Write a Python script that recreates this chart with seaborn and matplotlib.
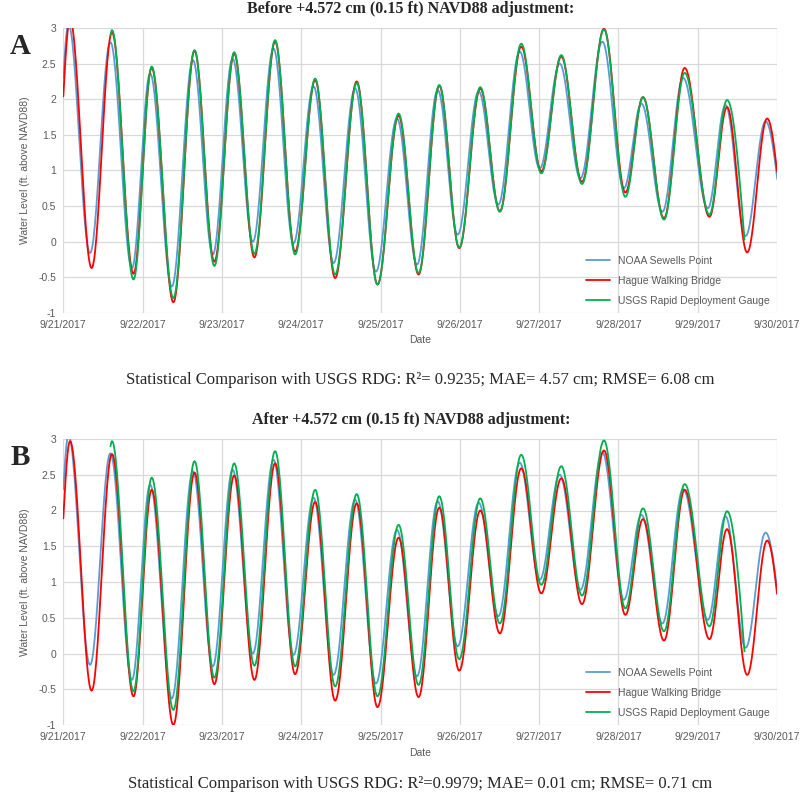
import numpy as np
import pandas as pd
import matplotlib
matplotlib.use('Agg')
import matplotlib.pyplot as plt
import matplotlib.dates as mdates
import seaborn as sns

START = pd.Timestamp('2017-09-21')
END = pd.Timestamp('2017-09-30')

# highs and lows, in days after 9/21/2017 00:00
tide_turns = [0.085, 0.357, 0.614, 0.885, 1.115, 1.388, 1.655, 1.905, 2.155, 2.41,
              2.671, 2.923, 3.176, 3.428, 3.70, 3.962, 4.228, 4.48, 4.741, 4.993,
              5.258, 5.505, 5.775, 6.028, 6.28, 6.541, 6.818, 7.088, 7.31, 7.575,
              7.836, 8.148, 8.37, 8.624, 8.876]
NOAA_LEAD = 0.02      # Sewells Point turns a little earlier than the other two
HAGUE_SHIFT = 0.15    # ft, Hague curve sits this much lower in panel B

hague_days = [0.0] + tide_turns + [9.015]
noaa_days = [0.0] + [t - NOAA_LEAD for t in tide_turns] + [9.015]
usgs_days = [0.595] + tide_turns[2:33] + [8.59]

# water levels (ft above NAVD88) at those times
hague_before = [2.04, 3.12, -0.37, 2.94, -0.45, 2.44, -0.85, 2.68, -0.28, 2.64, -0.22,
                2.81, -0.14, 2.27, -0.51, 2.25, -0.60, 1.77, -0.46, 2.19, -0.09, 2.15,
                0.43, 2.74, 0.99, 2.60, 0.84, 2.99, 0.69, 2.03, 0.33, 2.44, 0.35, 1.89,
                -0.15, 1.73, 0.84]
noaa = [2.30, 3.05, -0.16, 2.80, -0.37, 2.36, -0.63, 2.55, -0.18, 2.57, 0.00, 2.71,
        -0.02, 2.18, -0.30, 2.15, -0.42, 1.73, -0.32, 2.13, 0.10, 2.11, 0.52, 2.67,
        1.03, 2.50, 0.89, 2.81, 0.75, 1.94, 0.42, 2.30, 0.47, 1.92, 0.08, 1.69, 0.78]
usgs = [2.90, 2.97, -0.53, 2.46, -0.79, 2.69, -0.34, 2.66, -0.17, 2.83, -0.18, 2.29,
        -0.46, 2.23, -0.60, 1.80, -0.44, 2.20, -0.08, 2.17, 0.42, 2.78, 0.96, 2.62,
        0.81, 2.98, 0.63, 2.03, 0.31, 2.37, 0.38, 1.99, 0.03]
hague_after = [v - HAGUE_SHIFT for v in hague_before]

stations = ['NOAA Sewells Point', 'Hague Walking Bridge', 'USGS Rapid Deployment Gauge']
colors = ['#5B9BD5', '#FF0000', '#00B050']

titles = ['Before +4.572 cm (0.15 ft) NAVD88 adjustment:',
          'After +4.572 cm (0.15 ft) NAVD88 adjustment:']
stats = ['Statistical Comparison with USGS RDG: R\u00b2= 0.9235; MAE= 4.57 cm; RMSE= 6.08 cm',
         'Statistical Comparison with USGS RDG: R\u00b2=0.9979; MAE= 0.01 cm; RMSE= 0.71 cm']
letters = ['A', 'B']


def smooth(days, levels, n=30):
    # tide-shaped curve through the read highs/lows (cosine between turns)
    xs, ys = [], []
    last = len(days) - 2
    for i in range(len(days) - 1):
        s = np.linspace(0, 1, n, endpoint=(i == last))
        if i == 0:
            w = np.sin(s * np.pi / 2)
        elif i == last:
            w = 1 - np.cos(s * np.pi / 2)
        else:
            w = (1 - np.cos(s * np.pi)) / 2
        xs.append(days[i] + (days[i + 1] - days[i]) * s)
        ys.append(levels[i] + (levels[i + 1] - levels[i]) * w)
    return np.concatenate(xs), np.concatenate(ys)


def frame(days, levels, name):
    x, y = smooth(days, levels)
    return pd.DataFrame({'Date': START + pd.to_timedelta(x, unit='D'),
                         'level': y, 'station': name})


panels = [
    pd.concat([frame(noaa_days, noaa, stations[0]),
               frame(hague_days, hague_before, stations[1]),
               frame(usgs_days, usgs, stations[2])]),
    pd.concat([frame(noaa_days, noaa, stations[0]),
               frame(hague_days, hague_after, stations[1]),
               frame(usgs_days, usgs, stations[2])]),
]

sns.set_theme(style='white')
plt.rcParams['font.family'] = ['Liberation Sans', 'DejaVu Sans']
grey = '#595959'

fig = plt.figure(figsize=(8, 7.98), dpi=100)
W, H = 800, 798
boxes = [(63.3, 28, 777, 313), (63.3, 439, 777, 725)]
stat_y = [380, 784]

for k, (x0, y0, x1, y1) in enumerate(boxes):
    ax = fig.add_axes([x0 / W, 1 - y1 / H, (x1 - x0) / W, (y1 - y0) / H])
    sns.lineplot(data=panels[k], x='Date', y='level', hue='station',
                 hue_order=stations, palette=colors, sort=False,
                 estimator=None, linewidth=1.3, ax=ax)
    ax.set_xlim(START, END)
    ax.set_ylim(-1, 3)
    ax.set_yticks(np.arange(-1, 3.01, 0.5))
    ax.set_yticklabels(['-1', '-0.5', '0', '0.5', '1', '1.5', '2', '2.5', '3'])
    ax.xaxis.set_major_locator(mdates.DayLocator())
    ax.xaxis.set_major_formatter(mdates.DateFormatter('%-m/%-d/%Y'))
    ax.grid(True, color='#d9d9d9', linewidth=0.9)
    for sp in ax.spines.values():
        sp.set_visible(False)
    ax.tick_params(axis='both', length=0, labelsize=7.5, colors=grey, pad=5)
    ax.set_xlabel('Date', fontsize=7.5, color=grey, labelpad=4)
    ax.set_ylabel('Water Level (ft. above NAVD88)', fontsize=7.5, color=grey, labelpad=6)
    leg = ax.legend(loc='lower right', frameon=False, fontsize=7.5,
                    handlelength=2.3, labelspacing=0.95, borderaxespad=0.3)
    for t in leg.get_texts():
        t.set_color(grey)

    fig.text(411 / W, 1 - (y0 - 19) / H, titles[k], ha='center', va='center',
             family='Liberation Serif', weight='bold', fontsize=11.5)
    fig.text(20 / W, 1 - (y0 + 18) / H, letters[k], ha='center', va='center',
             family='Liberation Serif', weight='bold', fontsize=21)
    fig.text(420 / W, 1 - stat_y[k] / H, stats[k], ha='center', va='center',
             family='Liberation Serif', fontsize=12)

fig.savefig('out.png', dpi=100)
